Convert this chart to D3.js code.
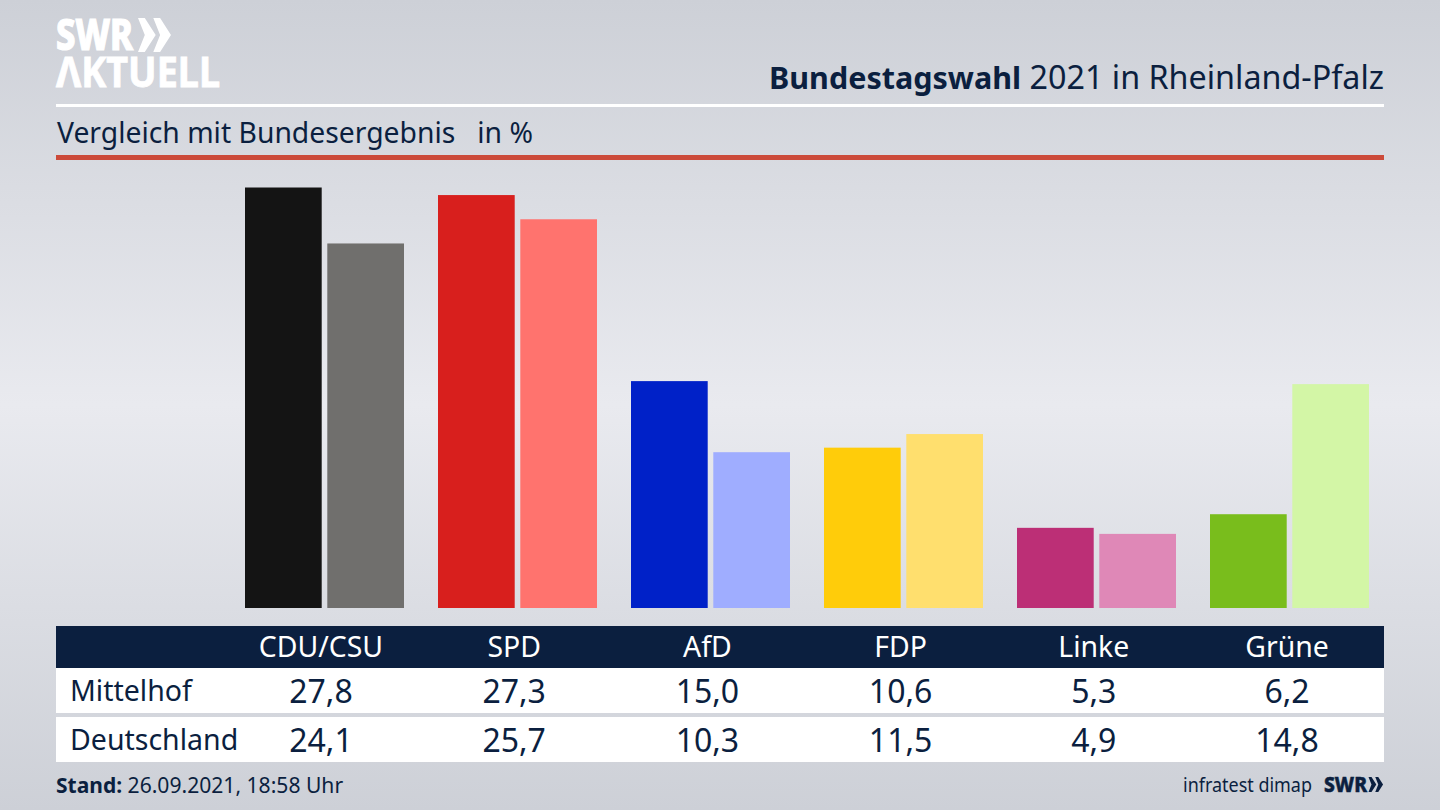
<!DOCTYPE html>
<html>
<head>
<meta charset="utf-8">
<style>
  html, body { margin: 0; padding: 0; background: #d5d7dd; overflow: hidden; }
  text { font-family: "Noto Sans", sans-serif; fill: #0b1f3f; }
</style>
<script src="https://d3js.org/d3.v7.min.js"></script>
</head>
<body>
<script>
var parties = ["CDU/CSU", "SPD", "AfD", "FDP", "Linke", "Grüne"];
var rows = ["Mittelhof", "Deutschland"];
var mittelhof = [27.8, 27.3, 15.0, 10.6, 5.3, 6.2];
var deutschland = [24.1, 25.7, 10.3, 11.5, 4.9, 14.8];
var coloursLocal = ["#141414", "#d81f1d", "#0021c8", "#ffcc0a", "#bc2f76", "#79bd1c"];
var coloursFederal = ["#706f6d", "#ff736e", "#9fadff", "#ffdf6e", "#df88b7", "#d3f6a6"];

var navy = "#0b1f3f";
var svg = d3.select("body").append("svg").attr("width", 1440).attr("height", 810);

// background
var grad = svg.append("defs").append("linearGradient")
    .attr("id", "bg").attr("x1", 0).attr("x2", 0).attr("y1", 0).attr("y2", 1);
grad.append("stop").attr("offset", "0%").attr("stop-color", "#cdd0d7");
grad.append("stop").attr("offset", "50%").attr("stop-color", "#e9eaef");
grad.append("stop").attr("offset", "100%").attr("stop-color", "#cdd0d7");
svg.append("rect").attr("width", 1440).attr("height", 810).attr("fill", "url(#bg)");

// logo arrows, h = height of one arrow
function chevrons(g, x, y, h, fill) {
  var tip = h * 0.52, t = h * 0.2, notch = h * 0.2;
  [0, 0.45].forEach(function (o) {
    var x0 = x + o * h;
    g.append("path")
      .attr("d", "M" + x0 + "," + y + "L" + (x0 + t) + "," + y + "L" + (x0 + tip) + "," + (y + h / 2) +
                 "L" + (x0 + t) + "," + (y + h) + "L" + x0 + "," + (y + h) +
                 "L" + (x0 + notch) + "," + (y + h / 2) + "z")
      .attr("fill", fill);
  });
}
var logo = svg.append("g");
logo.append("text").attr("x", 56).attr("y", 50).attr("font-size", 42).attr("font-weight", 800)
    .attr("textLength", 77).attr("lengthAdjust", "spacingAndGlyphs")
    .style("fill", "#fff").style("stroke", "#fff").style("stroke-width", 1.2).text("SWR");
chevrons(logo, 138, 18, 34, "#fff");
logo.append("text").attr("x", 56).attr("y", 87).attr("font-size", 42).attr("font-weight", 700)
    .attr("textLength", 164).attr("lengthAdjust", "spacingAndGlyphs")
    .style("fill", "#fff").style("stroke", "#fff").style("stroke-width", 0.8).text("ΛKTUELL");

// header
var title = svg.append("text").attr("x", 1384).attr("y", 89).attr("text-anchor", "end");
title.append("tspan").attr("font-weight", 700).attr("font-size", 30.5).text("Bundestagswahl");
title.append("tspan").attr("font-size", 32.3).text(" 2021 in Rheinland-Pfalz");
svg.append("rect").attr("x", 56).attr("y", 104).attr("width", 1328).attr("height", 3).attr("fill", "#fff");
svg.append("text").attr("x", 57).attr("y", 143).attr("font-size", 28.3)
    .style("white-space", "pre").text("Vergleich mit Bundesergebnis   in %");
svg.append("rect").attr("x", 56).attr("y", 155).attr("width", 1328).attr("height", 5).attr("fill", "#cc4a3a");

// bars
var y = d3.scaleLinear().domain([0, 27.8]).range([608, 187.5]);
var x = d3.scaleBand().domain(parties).range([228, 1386]);
var inner = d3.scaleBand().domain(["local", "federal"]).range([17, 176]).paddingInner(0.068);

var groups = svg.append("g").selectAll("g").data(parties).join("g")
    .attr("transform", function (d) { return "translate(" + x(d) + ",0)"; });
groups.append("rect")
    .attr("x", inner("local")).attr("width", inner.bandwidth())
    .attr("y", function (d, i) { return y(mittelhof[i]); })
    .attr("height", function (d, i) { return y(0) - y(mittelhof[i]); })
    .attr("fill", function (d, i) { return coloursLocal[i]; });
groups.append("rect")
    .attr("x", inner("federal")).attr("width", inner.bandwidth())
    .attr("y", function (d, i) { return y(deutschland[i]); })
    .attr("height", function (d, i) { return y(0) - y(deutschland[i]); })
    .attr("fill", function (d, i) { return coloursFederal[i]; });

// table
var col = d3.scalePoint().domain(parties).range([321, 1287]);
svg.append("rect").attr("x", 56).attr("y", 626).attr("width", 1328).attr("height", 42).attr("fill", navy);
svg.append("rect").attr("x", 56).attr("y", 668).attr("width", 1328).attr("height", 45).attr("fill", "#fff");
svg.append("rect").attr("x", 56).attr("y", 717).attr("width", 1328).attr("height", 45).attr("fill", "#fff");

svg.append("g").selectAll("text").data(parties).join("text")
    .attr("x", function (d) { return col(d); }).attr("y", 657)
    .attr("text-anchor", "middle").attr("font-size", 28.4)
    .style("fill", "#fff").text(function (d) { return d; });

[mittelhof, deutschland].forEach(function (values, r) {
  var base = r === 0 ? 700 : 749;
  svg.append("text").attr("x", 70).attr("y", base + 1).attr("font-size", 28.5).text(rows[r]);
  svg.append("g").selectAll("text").data(values).join("text")
      .attr("x", function (d, i) { return col(parties[i]); }).attr("y", base + 3)
      .attr("text-anchor", "middle").attr("font-size", 32)
      .text(function (d) { return d.toFixed(1).replace(".", ","); });
});

// footer
var stand = svg.append("text").attr("x", 56).attr("y", 793);
stand.append("tspan").attr("font-weight", 700).attr("font-size", 21).text("Stand:");
stand.append("tspan").attr("font-size", 21.1).text(" 26.09.2021, 18:58 Uhr");
svg.append("text").attr("x", 1183).attr("y", 792).attr("font-size", 20)
    .attr("textLength", 129).attr("lengthAdjust", "spacingAndGlyphs").text("infratest dimap");
svg.append("text").attr("x", 1324).attr("y", 792).attr("font-size", 21).attr("font-weight", 800)
    .attr("textLength", 43).attr("lengthAdjust", "spacingAndGlyphs")
    .style("stroke", navy).style("stroke-width", 0.5).text("SWR");
chevrons(svg.append("g"), 1368.5, 777, 15, navy);
</script>
</body>
</html>
